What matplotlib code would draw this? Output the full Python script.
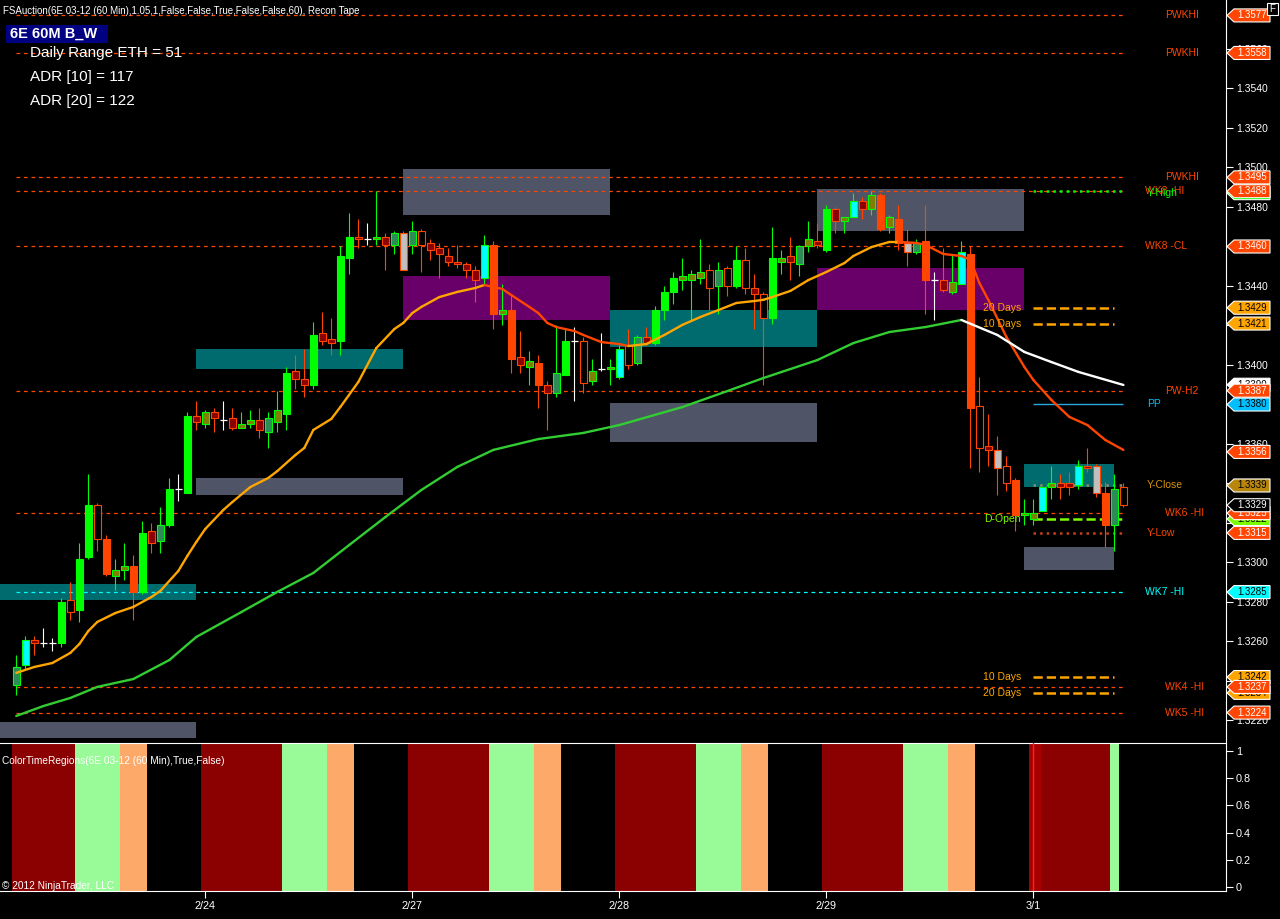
import numpy as np
import matplotlib.pyplot as plt
from matplotlib.patches import Rectangle, Polygon
from matplotlib.transforms import blended_transform_factory

plt.rcParams['font.family'] = ['Liberation Sans', 'DejaVu Sans']

# 60 min bars of 6E 03-12 (bar index 0..123)
opens = [1.3238, 1.3248, 1.3261, 1.3259, 1.3259, 1.3259, 1.3281, 1.3276, 1.3303, 1.3329,
         1.3312, 1.3293, 1.3296, 1.3298, 1.3285, 1.3316, 1.3311, 1.3319, 1.3337, 1.3335,
         1.3374, 1.3370, 1.3376, 1.3372, 1.3373, 1.3368, 1.3370, 1.3372, 1.3366, 1.3371,
         1.3375, 1.3397, 1.3393, 1.3390, 1.3416, 1.3413, 1.3412, 1.3454, 1.3465, 1.3464,
         1.3464, 1.3465, 1.3461, 1.3467, 1.3461, 1.3468, 1.3462, 1.3459, 1.3455, 1.3452,
         1.3451, 1.3448, 1.3444, 1.3461, 1.3426, 1.3428, 1.3404, 1.3399, 1.3401, 1.3390,
         1.3386, 1.3395, 1.3412, 1.3412, 1.3392, 1.3398, 1.3398, 1.3394, 1.3410, 1.3401,
         1.3414, 1.3411, 1.3428, 1.3437, 1.3443, 1.3443, 1.3444, 1.3448, 1.3440, 1.3449,
         1.3440, 1.3453, 1.3439, 1.3436, 1.3424, 1.3452, 1.3455, 1.3451, 1.3460, 1.3463,
         1.3458, 1.3479, 1.3473, 1.3475, 1.3483, 1.3479, 1.3486, 1.3470, 1.3474, 1.3462,
         1.3457, 1.3463, 1.3443, 1.3443, 1.3437, 1.3441, 1.3456, 1.3379, 1.3359, 1.3357,
         1.3349, 1.3342, 1.3324, 1.3322, 1.3326, 1.3338, 1.3340, 1.3340, 1.3339, 1.3349,
         1.3349, 1.3335, 1.3319, 1.3338]
highs = [1.3253, 1.3263, 1.3263, 1.3267, 1.3262, 1.3282, 1.3290, 1.3310, 1.3345, 1.3330,
         1.3314, 1.3302, 1.3310, 1.3304, 1.3321, 1.3320, 1.3328, 1.3343, 1.3345, 1.3376,
         1.3382, 1.3377, 1.3378, 1.3382, 1.3378, 1.3376, 1.3377, 1.3378, 1.3376, 1.3387,
         1.3399, 1.3405, 1.3408, 1.3422, 1.3427, 1.3424, 1.3460, 1.3477, 1.3474, 1.3472,
         1.3488, 1.3467, 1.3468, 1.3468, 1.3473, 1.3469, 1.3464, 1.3462, 1.3459, 1.3461,
         1.3452, 1.3450, 1.3466, 1.3463, 1.3441, 1.3435, 1.3417, 1.3407, 1.3405, 1.3392,
         1.3420, 1.3418, 1.3419, 1.3414, 1.3403, 1.3416, 1.3403, 1.3410, 1.3418, 1.3415,
         1.3419, 1.3430, 1.3440, 1.3447, 1.3454, 1.3448, 1.3464, 1.3451, 1.3452, 1.3450,
         1.3460, 1.3459, 1.3446, 1.3437, 1.3470, 1.3458, 1.3465, 1.3461, 1.3473, 1.3472,
         1.3481, 1.3480, 1.3475, 1.3487, 1.3485, 1.3488, 1.3487, 1.3476, 1.3481, 1.3469,
         1.3464, 1.3481, 1.3447, 1.3459, 1.3456, 1.3463, 1.3460, 1.3394, 1.3375, 1.3364,
         1.3354, 1.3343, 1.3332, 1.3332, 1.3338, 1.3349, 1.3345, 1.3346, 1.3352, 1.3358,
         1.3350, 1.3341, 1.3345, 1.3340]
lows = [1.3233, 1.3246, 1.3253, 1.3257, 1.3255, 1.3257, 1.3271, 1.3270, 1.3302, 1.3306,
        1.3293, 1.3286, 1.3291, 1.3271, 1.3284, 1.3305, 1.3305, 1.3318, 1.3331, 1.3335,
        1.3367, 1.3368, 1.3366, 1.3367, 1.3367, 1.3368, 1.3368, 1.3363, 1.3358, 1.3366,
        1.3367, 1.3388, 1.3384, 1.3388, 1.3410, 1.3405, 1.3405, 1.3446, 1.3459, 1.3461,
        1.3461, 1.3448, 1.3456, 1.3448, 1.3456, 1.3447, 1.3453, 1.3444, 1.3450, 1.3449,
        1.3444, 1.3432, 1.3441, 1.3418, 1.3420, 1.3396, 1.3396, 1.3390, 1.3378, 1.3367,
        1.3384, 1.3395, 1.3382, 1.3386, 1.3390, 1.3397, 1.3390, 1.3393, 1.3398, 1.3400,
        1.3410, 1.3410, 1.3423, 1.3431, 1.3438, 1.3423, 1.3441, 1.3428, 1.3426, 1.3435,
        1.3439, 1.3436, 1.3418, 1.3390, 1.3421, 1.3446, 1.3443, 1.3445, 1.3457, 1.3459,
        1.3457, 1.3467, 1.3467, 1.3475, 1.3474, 1.3476, 1.3468, 1.3467, 1.3458, 1.3450,
        1.3456, 1.3426, 1.3423, 1.3437, 1.3436, 1.3441, 1.3348, 1.3346, 1.3349, 1.3334,
        1.3336, 1.3316, 1.3319, 1.3319, 1.3326, 1.3332, 1.3332, 1.3334, 1.3337, 1.3346,
        1.3333, 1.3308, 1.3306, 1.3328]
closes = [1.3247, 1.3261, 1.3259, 1.3259, 1.3259, 1.3280, 1.3275, 1.3302, 1.3329, 1.3312,
          1.3294, 1.3296, 1.3298, 1.3285, 1.3315, 1.3310, 1.3319, 1.3337, 1.3337, 1.3374,
          1.3371, 1.3376, 1.3373, 1.3372, 1.3368, 1.3370, 1.3372, 1.3367, 1.3373, 1.3377,
          1.3396, 1.3393, 1.3390, 1.3415, 1.3412, 1.3411, 1.3455, 1.3465, 1.3464, 1.3464,
          1.3465, 1.3461, 1.3467, 1.3448, 1.3468, 1.3461, 1.3458, 1.3456, 1.3452, 1.3451,
          1.3448, 1.3443, 1.3461, 1.3426, 1.3428, 1.3403, 1.3400, 1.3402, 1.3390, 1.3386,
          1.3396, 1.3412, 1.3412, 1.3391, 1.3397, 1.3398, 1.3399, 1.3408, 1.3400, 1.3414,
          1.3411, 1.3428, 1.3437, 1.3444, 1.3445, 1.3446, 1.3447, 1.3439, 1.3448, 1.3440,
          1.3453, 1.3439, 1.3436, 1.3424, 1.3454, 1.3454, 1.3452, 1.3460, 1.3464, 1.3461,
          1.3479, 1.3473, 1.3475, 1.3483, 1.3479, 1.3486, 1.3469, 1.3475, 1.3462, 1.3457,
          1.3462, 1.3443, 1.3443, 1.3438, 1.3442, 1.3457, 1.3378, 1.3358, 1.3357, 1.3348,
          1.3340, 1.3324, 1.3325, 1.3325, 1.3338, 1.3340, 1.3338, 1.3338, 1.3349, 1.3348,
          1.3335, 1.3319, 1.3337, 1.3329]
# candle paint: L lime, C cyan, S seagreen, O olive, R orangered, D darkred, H hollow, G gray, W doji
candle_codes = ("SCDWWLHLLH" "ROORLDSLWL" "DODWDOODSO" "LDDLDDLLDW" "ODSGSHDDDD"
                "DDCRORDORD" "SLWHOWOCHS" "DLLLOOOHSH" "LHDHLODSOD" "LDOCDORORG"
                "SRWDOCRHDG" "HROOCODDCD" "GRSH")

fast_bars = [0, 2, 4, 6, 7, 8, 9, 11, 13, 15, 16, 18, 19, 20, 21, 23, 24, 26, 28, 29,
             31, 32, 33, 35, 36, 38, 40, 42, 43, 44, 45, 47, 49, 51, 52, 53, 54, 55, 57, 58,
             59, 60, 62, 63, 65, 67, 68, 70, 72, 74, 76, 78, 80, 82, 83, 84, 86, 88, 90, 92,
             93, 95, 97, 98, 100, 101, 103, 105, 106, 107, 108, 110, 112, 113, 115, 117, 119, 121, 123]
fast_vals = [1.32441, 1.32471, 1.32491, 1.32542, 1.32587, 1.32653, 1.32699, 1.32744, 1.32775, 1.32825,
             1.32856, 1.32957, 1.33033, 1.33104, 1.33170, 1.33266, 1.33306, 1.33382, 1.33428, 1.33463,
             1.33544, 1.33580, 1.33671, 1.33727, 1.33787, 1.33914, 1.34086, 1.34182, 1.34213, 1.34263,
             1.34294, 1.34344, 1.34370, 1.34390, 1.34405, 1.34395, 1.34385, 1.34354, 1.34294, 1.34263,
             1.34213, 1.34192, 1.34172, 1.34152, 1.34116, 1.34106, 1.34096, 1.34106, 1.34152, 1.34203,
             1.34243, 1.34278, 1.34314, 1.34324, 1.34330, 1.34344, 1.34375, 1.34430, 1.34471, 1.34516,
             1.34552, 1.34597, 1.34623, 1.34623, 1.34618, 1.34608, 1.34562, 1.34552, 1.34532, 1.34415,
             1.34329, 1.34142, 1.33990, 1.33924, 1.33823, 1.33737, 1.33696, 1.33620, 1.33570]
slow_bars = [0, 3, 6, 9, 13, 17, 20, 25, 29, 33, 37, 41, 45, 49, 53, 58, 63, 67, 69, 74,
             79, 83, 89, 93, 97, 101, 105, 109, 112, 115, 118, 123]
slow_vals = [1.32223, 1.32273, 1.32314, 1.32370, 1.32410, 1.32506, 1.32623, 1.32749, 1.32851, 1.32947,
             1.33089, 1.33230, 1.33367, 1.33484, 1.33570, 1.33625, 1.33656, 1.33696, 1.33722, 1.33787,
             1.33868, 1.33934, 1.34025, 1.34111, 1.34167, 1.34192, 1.34228, 1.34152, 1.34066, 1.34015,
             1.33965, 1.33899]

# value-area style boxes
zone_x0 = [-1.8, -1.8, 20, 20, 43, 43, 66, 66, 89, 89, 112, 112]
zone_x1 = [20, 20, 43, 43, 66, 66, 89, 89, 112, 112, 122, 122]
zone_lo = [1.3281, 1.3211, 1.3398, 1.3334, 1.3476, 1.3423, 1.3409, 1.3361, 1.3468, 1.3428, 1.3338, 1.3296]
zone_hi = [1.3289, 1.3219, 1.3408, 1.3343, 1.3499, 1.3445, 1.3428, 1.3381, 1.3489, 1.3449, 1.3350, 1.3308]
zone_kind = ['teal', 'gray', 'teal', 'gray', 'gray', 'purple', 'teal', 'gray', 'gray', 'purple', 'teal', 'gray']

# weekly levels across the chart
level_prices = [1.3577, 1.3558, 1.3495, 1.3488, 1.3460, 1.3387, 1.3325, 1.3285, 1.3237, 1.3224]
level_names = ['PWKHI', 'PWKHI', 'PWKHI', 'WK8 -HI', 'WK8 -CL', 'PW-H2', 'WK6 -HI', 'WK7 -HI', 'WK4 -HI', 'WK5 -HI']
level_colors = ['#FF4500'] * 7 + ['#00FFFF'] + ['#FF4500'] * 2
level_label_x = [127.6, 127.6, 127.6, 125.4, 125.4, 127.6, 127.6, 125.4, 127.6, 127.6]

# short levels for current day
day_prices = [1.3488, 1.3429, 1.3421, 1.3380, 1.3339, 1.3322, 1.3315, 1.3242, 1.3234]
day_names = ['Y-High', '20 Days', '10 Days', 'PP', 'Y-Close', 'D-Open', 'Y-Low', '10 Days', '20 Days']
day_colors = ['#00FF00', '#FFA500', '#FFA500', '#29A8E0', '#8C8C6A', '#7CFC00', '#C8401A', '#FFA500', '#FFA500']
day_text_colors = ['#00FF00', '#FFA500', '#FFA500', '#00BFFF', '#D4940C', '#7CFC00', '#FF4500', '#FFA500', '#FFA500']
day_styles = [':', '--', '--', '-', ':', '--', ':', '--', '--']
day_label_left = [False, True, True, False, False, True, False, True, True]

# price markers on the right axis (drawn in this order)
flag_prices = [1.3577, 1.3558, 1.3495, 1.3487, 1.3488, 1.3460, 1.3429, 1.3421, 1.3390, 1.3387, 1.3380,
               1.3356, 1.3339, 1.3322, 1.3325, 1.3329, 1.3315, 1.3285, 1.3234, 1.3242, 1.3237, 1.3224]
flag_faces = ['#FF4500', '#FF4500', '#FF4500', '#00FF00', '#FF4500', '#FF4500', '#FFA500', '#FFA500', '#FFFFFF',
              '#FF4500', '#00BFFF', '#FF4500', '#B8860B', '#7CFC00', '#FF4500', '#000000', '#FF4500', '#00FFFF',
              '#FFA500', '#FFA500', '#FF4500', '#FF4500']
flag_text = ['white', 'white', 'white', 'black', 'white', 'white', 'black', 'black', 'black', 'white', 'black',
             'white', 'black', 'black', 'white', 'white', 'white', 'black', 'black', 'black', 'white', 'white']

# ColorTimeRegions panel
reg_start = [-0.5, 6.5, 11.5, 20.5, 29.5, 34.5, 43.5, 52.5, 57.5, 66.5, 75.5, 80.5, 89.5, 98.5, 103.5, 112.5, 121.5]
reg_end = [6.5, 11.5, 14.5, 29.5, 34.5, 37.5, 52.5, 57.5, 60.5, 75.5, 80.5, 83.5, 98.5, 103.5, 106.5, 121.5, 122.5]
reg_kind = ['red', 'green', 'orange'] * 5 + ['red', 'green']

date_bars = [21, 44, 67, 90, 113]
date_labels = ['2/24', '2/27', '2/28', '2/29', '3/1']

STYLE = {
    'L': ('#00FF00', '#00FF00', '#00FF00'),
    'C': ('#00FFFF', '#00FF00', '#00FF00'),
    'S': ('#2E8B57', '#00FF00', '#00FF00'),
    'O': ('#808000', '#00FF00', '#00FF00'),
    'R': ('#FF4500', '#FF4500', '#FF4500'),
    'D': ('#8B0000', '#FF4500', '#FF4500'),
    'H': ('#000000', '#FF4500', '#FF4500'),
    'G': ('#C0C0C0', '#FF4500', '#FF4500'),
    'W': ('#FFFFFF', '#FFFFFF', '#FFFFFF'),
}
ZONE_COL = {'teal': '#006B6E', 'gray': '#4F5566', 'purple': '#690069'}
REG_COL = {'red': '#8B0000', 'green': '#98FB98', 'orange': '#FCA96A'}

W, H = 1280, 919
fig = plt.figure(figsize=(W / 100, H / 100), dpi=100, facecolor='black')
ax = fig.add_axes([0, 1 - 742 / H, 1226 / W, 742 / H], facecolor='black')
ax2 = fig.add_axes([0, 1 - 891 / H, 1226 / W, 148 / H], facecolor='black')

x_lo, x_hi = -1.81, 134.4

# zones
for x0, x1, lo, hi, k in zip(zone_x0, zone_x1, zone_lo, zone_hi, zone_kind):
    ax.add_patch(Rectangle((x0, lo), x1 - x0, hi - lo, facecolor=ZONE_COL[k], edgecolor='none', zorder=1))

# long levels
for p, name, col, lx in zip(level_prices, level_names, level_colors, level_label_x):
    ax.hlines(p, 0, 123, colors=col, linestyles=(0, (3, 3)), lw=0.9, zorder=2)
    ax.text(lx, p, name, color=col, fontsize=7.5, ha='left', va='center', zorder=6)

# short levels
for p, name, col, tcol, ls, left in zip(day_prices, day_names, day_colors, day_text_colors, day_styles, day_label_left):
    end = 122 if name.endswith('Days') else 123
    lw = 1.0 if ls == '-' else 1.8
    ax.hlines(p, 113, end, colors=col, linestyles=ls, lw=lw, zorder=2)
    if left:
        ax.text(111.6, p, name, color=tcol, fontsize=7.5, ha='right', va='center', zorder=6)
    else:
        ax.text(125.6, p - 0.0001 if name == 'Y-High' else p, name, color=tcol, fontsize=7.5,
                ha='left', va='center', zorder=7)

# candles
for i, code in enumerate(candle_codes):
    o, h, l, c = opens[i], highs[i], lows[i], closes[i]
    face, edge, wick = STYLE[code]
    ax.vlines(i, l, h, colors=wick, lw=0.8, zorder=3)
    if code == 'W':
        ax.hlines(o, i - 0.4, i + 0.4, colors='white', lw=0.9, zorder=4)
    else:
        ax.add_patch(Rectangle((i - 0.38, min(o, c)), 0.76, max(abs(c - o), 0.00004),
                               facecolor=face, edgecolor=edge, lw=0.8, zorder=4))

# moving averages (colour by slope)
for k in range(len(fast_bars) - 1):
    col = '#FFA500' if fast_vals[k + 1] >= fast_vals[k] else '#FF4500'
    ax.plot(fast_bars[k:k + 2], fast_vals[k:k + 2], color=col, lw=1.7, solid_capstyle='round', zorder=5)
for k in range(len(slow_bars) - 1):
    col = '#32CD32' if slow_vals[k + 1] >= slow_vals[k] else '#FFFFFF'
    ax.plot(slow_bars[k:k + 2], slow_vals[k:k + 2], color=col, lw=1.7, solid_capstyle='round', zorder=5)

ax.set_xlim(x_lo, x_hi)
ax.set_ylim(1.320911, 1.358481)
ax.set_xticks([])
ax.yaxis.tick_right()
ax.set_yticks(np.arange(1.3220, 1.3561, 0.0020))
ax.yaxis.set_major_formatter(plt.FormatStrFormatter('%.4f'))
ax.tick_params(axis='y', colors='white', labelcolor='white', labelsize=7.5, length=5, width=0.8, pad=2)
for s in ['top', 'left', 'bottom']:
    ax.spines[s].set_visible(False)
ax.spines['right'].set_color('white')

# right axis price flags
tr = blended_transform_factory(ax.transAxes, ax.transData)
hh = 0.00033
x_tip, x_box, x_end = 1227 / 1226, 1234 / 1226, 1270 / 1226
for k, (p, face, tcol) in enumerate(zip(flag_prices, flag_faces, flag_text)):
    poly = Polygon([(x_tip, p), (x_box, p + hh), (x_end, p + hh), (x_end, p - hh), (x_box, p - hh)],
                   closed=True, transform=tr, facecolor=face, edgecolor='white', lw=0.8,
                   clip_on=False, zorder=20 + 2 * k)
    ax.add_patch(poly)
    ax.text(1252.5 / 1226, p, f'{p:.4f}', transform=tr, color=tcol, fontsize=7,
            ha='center', va='center', clip_on=False, zorder=21 + 2 * k)

# ColorTimeRegions panel
for a, b, k in zip(reg_start, reg_end, reg_kind):
    ax2.axvspan(a, b, color=REG_COL[k], lw=0, zorder=1)
ax2.axvspan(112.5, 113.8, color='#A80000', lw=0, zorder=2)
ax2.axvline(113.0, color='#FF2020', lw=1, zorder=3)
ax2.set_xlim(x_lo, x_hi)
ax2.set_ylim(-0.03, 1.06)
ax2.yaxis.tick_right()
ax2.set_yticks([0, 0.2, 0.4, 0.6, 0.8, 1])
ax2.set_yticklabels(['0', '0.2', '0.4', '0.6', '0.8', '1'])
ax2.set_xticks(date_bars)
ax2.set_xticklabels(date_labels)
ax2.tick_params(colors='white', labelcolor='white', labelsize=7.8, length=5, width=0.8, pad=2)
ax2.spines['left'].set_visible(False)
for s in ['top', 'bottom', 'right']:
    ax2.spines[s].set_color('white')
ax2.text(0.002, 0.88, 'ColorTimeRegions(6E 03-12 (60 Min),True,False)', transform=ax2.transAxes,
         color='white', fontsize=7.3, ha='left', va='center')
ax2.text(0.002, 0.035, '\u00a9 2012 NinjaTrader, LLC', transform=ax2.transAxes,
         color='white', fontsize=7.3, ha='left', va='center')

# header texts
fig.text(3 / W, 1 - 11 / H, 'FSAuction(6E 03-12 (60 Min),1.05,1,False,False,True,False,False,60), Recon Tape',
         color='white', fontsize=7, ha='left', va='center')
fig.add_artist(Rectangle((6 / W, 1 - 43 / H), 102 / W, 18 / H, transform=fig.transFigure,
                         facecolor='#000080', edgecolor='none'))
fig.text(10 / W, 1 - 34 / H, '6E 60M B_W', color='white', fontsize=10.5, fontweight='bold',
         ha='left', va='center')
fig.text(30 / W, 1 - 53 / H, 'Daily Range ETH = 51', color='white', fontsize=11, ha='left', va='center')
fig.text(30 / W, 1 - 77 / H, 'ADR [10] = 117', color='white', fontsize=11, ha='left', va='center')
fig.text(30 / W, 1 - 101 / H, 'ADR [20] = 122', color='white', fontsize=11, ha='left', va='center')
fig.add_artist(Rectangle((1267 / W, 1 - 15 / H), 11 / W, 12 / H, transform=fig.transFigure,
                         facecolor='black', edgecolor='white', lw=0.8))
fig.text(1272.5 / W, 1 - 9 / H, 'F', color='white', fontsize=7, ha='center', va='center')

fig.savefig('out.png', dpi=100, facecolor='black')
